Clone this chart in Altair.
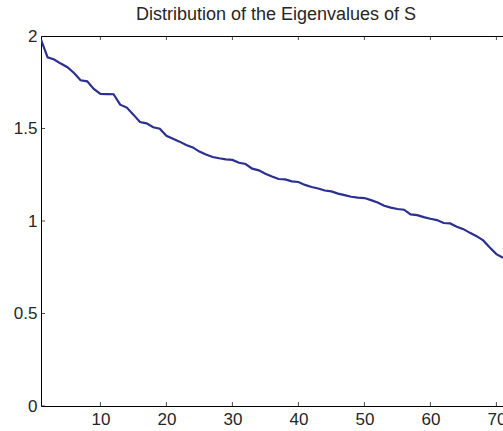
import altair as alt
import pandas as pd

title_text = "Distribution of the Eigenvalues of S"

index = list(range(1, 72))
eigenvalues = [
    1.98, 1.885, 1.873, 1.851, 1.831, 1.800, 1.761, 1.755, 1.714, 1.687,
    1.686, 1.685, 1.629, 1.613, 1.575, 1.535, 1.528, 1.507, 1.499, 1.461,
    1.445, 1.429, 1.411, 1.398, 1.375, 1.359, 1.346, 1.339, 1.333, 1.330,
    1.315, 1.308, 1.283, 1.274, 1.256, 1.241, 1.227, 1.225, 1.214, 1.211,
    1.195, 1.184, 1.176, 1.165, 1.160, 1.148, 1.140, 1.131, 1.126, 1.124,
    1.113, 1.100, 1.082, 1.072, 1.065, 1.061, 1.036, 1.032, 1.021, 1.012,
    1.005, 0.989, 0.987, 0.969, 0.956, 0.936, 0.918, 0.895, 0.857, 0.821,
    0.801,
]
x_ticks = [10, 20, 30, 40, 50, 60, 70]
y_ticks = [0, 0.5, 1, 1.5, 2]
x_domain = [1, 71]
y_domain = [0, 2]

df = pd.DataFrame({"i": index, "v": eigenvalues})
xt_bottom = pd.DataFrame({"t": x_ticks, "v": [y_domain[0]] * len(x_ticks)})
xt_top = pd.DataFrame({"t": x_ticks, "v": [y_domain[1]] * len(x_ticks)})
yt_left = pd.DataFrame({"t": [x_domain[0]] * len(y_ticks), "v": y_ticks})

FONT = "Liberation Sans"
TXT = "#262626"

xscale = alt.Scale(domain=x_domain, nice=False, zero=False)
yscale = alt.Scale(domain=y_domain, nice=False, zero=False)

line = alt.Chart(df).mark_line(color="#2b2f8f", strokeWidth=2.2, clip=True).encode(
    x=alt.X("i:Q", scale=xscale, title=None,
            axis=alt.Axis(orient="bottom", values=x_ticks, ticks=False, grid=False,
                          labelFont=FONT, labelFontSize=17, labelColor=TXT,
                          labelPadding=5, domainColor="black", domainWidth=1)),
    y=alt.Y("v:Q", scale=yscale, title=None,
            axis=alt.Axis(orient="left", values=y_ticks, format="~g", ticks=False, grid=False,
                          labelFont=FONT, labelFontSize=17, labelColor=TXT,
                          labelPadding=4, domainColor="black", domainWidth=1)),
)

bottom_ticks = alt.Chart(xt_bottom).mark_tick(
    orient="vertical", size=8, thickness=1, color="black", clip=True
).encode(
    x=alt.X("t:Q", scale=xscale, axis=None),
    y=alt.Y("v:Q", scale=yscale, axis=None),
)

top_ticks = alt.Chart(xt_top).mark_tick(
    orient="vertical", size=8, thickness=1, color="black", clip=True
).encode(
    x=alt.X("t:Q", scale=xscale, title=None,
            axis=alt.Axis(orient="top", labels=False, ticks=False, grid=False,
                          domainColor="black", domainWidth=1)),
    y=alt.Y("v:Q", scale=yscale, axis=None),
)

left_ticks = alt.Chart(yt_left).mark_tick(
    orient="horizontal", size=8, thickness=1, color="black", clip=True
).encode(
    x=alt.X("t:Q", scale=xscale, axis=None),
    y=alt.Y("v:Q", scale=yscale, axis=None),
)

chart = alt.layer(line, bottom_ticks, top_ticks, left_ticks).resolve_axis(
    x="independent", y="independent"
).properties(
    width=462,
    height=370,
    title=alt.TitleParams(title_text, font=FONT, fontSize=18, fontWeight="normal",
                          color=TXT, anchor="middle", baseline="alphabetic",
                          offset=13, dx=4, dy=24),
    autosize=alt.AutoSizeParams(type="none"),
    padding={"left": 41, "top": 36, "right": 0, "bottom": 25},
).configure_view(stroke=None).configure(background="white")

chart.save("out.html", embed_options={"renderer": "svg", "actions": False})
